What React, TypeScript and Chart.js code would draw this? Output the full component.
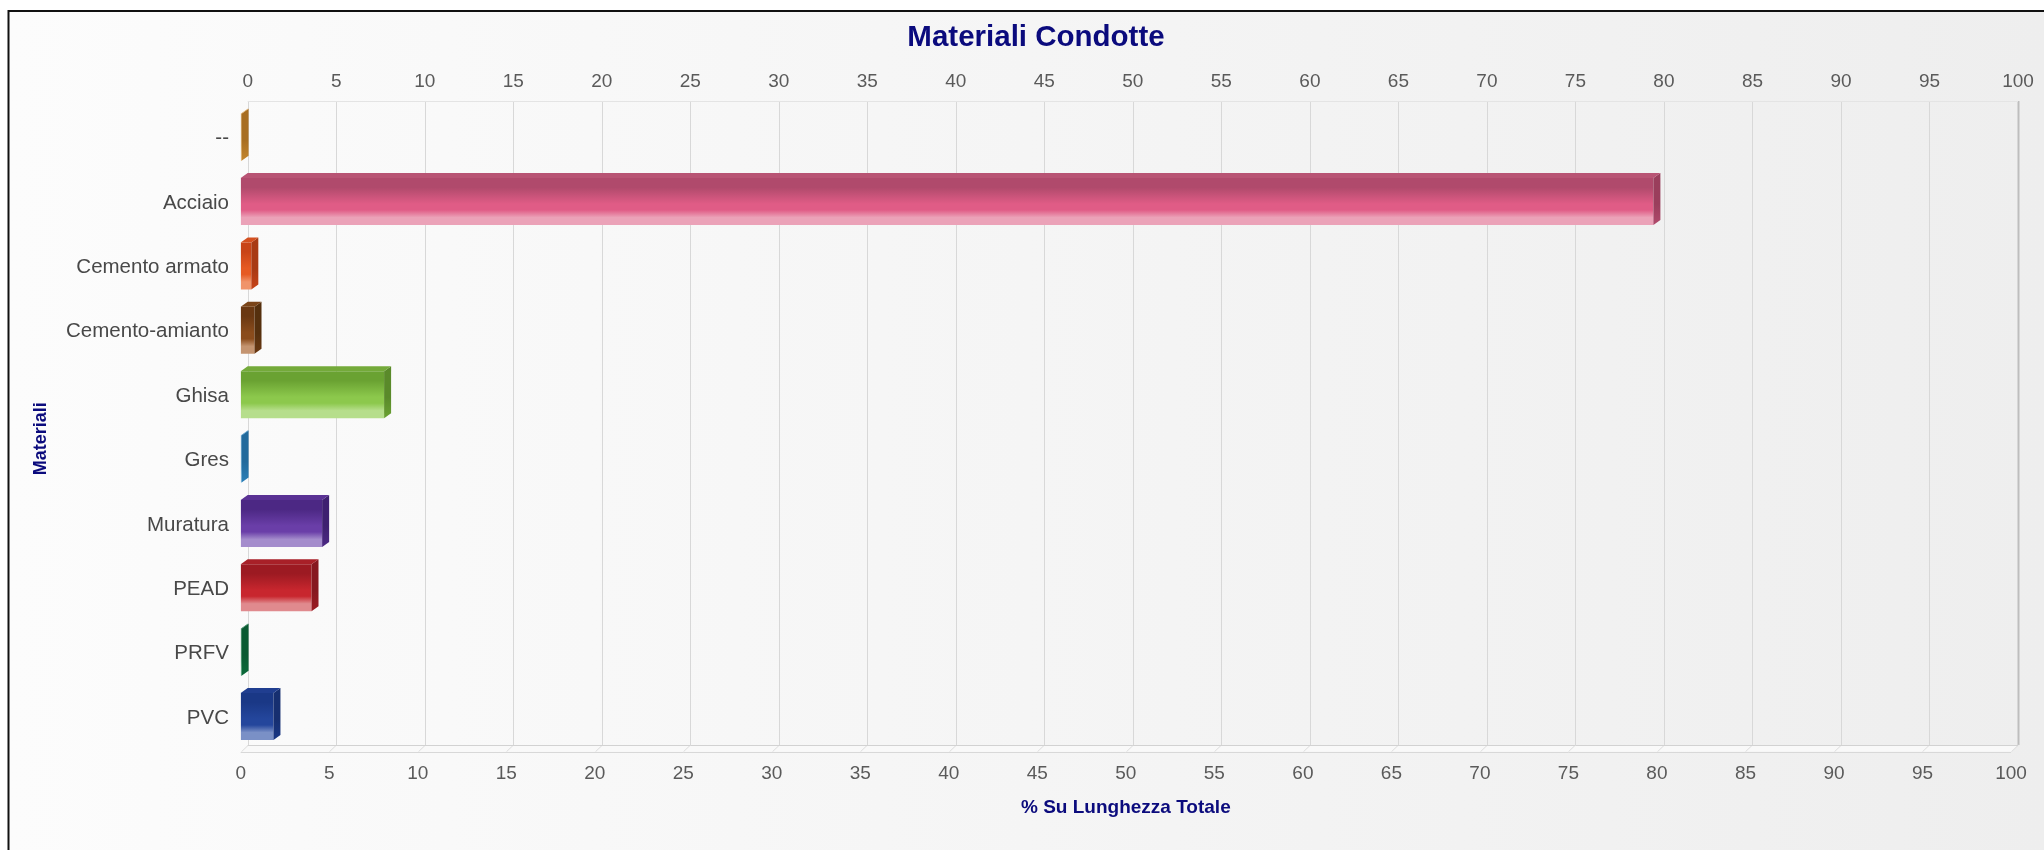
import React, { useEffect, useRef } from 'react';
import { Chart, registerables } from 'chart.js';

Chart.register(...registerables);

// ---- data ----
const categories = ['--', 'Acciaio', 'Cemento armato', 'Cemento-amianto', 'Ghisa', 'Gres', 'Muratura', 'PEAD', 'PRFV', 'PVC'];
const percentages = [0.05, 79.8, 0.6, 0.78, 8.1, 0.05, 4.6, 4.0, 0.05, 1.85];
const axisMin = 0;
const axisMax = 100;
const axisStep = 5;
const chartTitle = 'Materiali Condotte';
const xAxisTitle = '% Su Lunghezza Totale';
const yAxisTitle = 'Materiali';

// ---- style ----
const FONT = '"Liberation Sans", Arial, sans-serif';
const NAVY = '#0b0b7d';
// [top, mid, bottom, side, topFace]
const palette: string[][] = [
  ['#c4862e', '#d89a3e', '#e6b466', '#a86e22', '#d8a050'],
  ['#b04a6c', '#e05c86', '#eba2b8', '#9a3e5c', '#b85474'],
  ['#c84418', '#e65a22', '#f0946a', '#a83a14', '#d45020'],
  ['#6a3812', '#8a4c1c', '#c49470', '#55300e', '#7a4418'],
  ['#6aa232', '#8cc84c', '#b6de8c', '#5a8a2a', '#74aa3a'],
  ['#2a7fb8', '#3a94cc', '#78b8e0', '#226a9c', '#3288c0'],
  ['#4c2884', '#6a3ea8', '#a48ccc', '#3e2070', '#5a3294'],
  ['#9c1a22', '#c8262e', '#e08a8e', '#861820', '#a82028'],
  ['#0c6a3a', '#128048', '#4aa878', '#0a5a32', '#0e7040'],
  ['#1a3886', '#24469c', '#7a90c6', '#162f70', '#203e90'],
];
const BAR_FRACTION = 0.73;
const DEPTH_X = 7;
const DEPTH_Y = 5;
const WALL_DX = 7;

const threeDPlugin = {
  id: 'threeD',
  beforeDraw(chart: any) {
    const { ctx, width, height } = chart;
    ctx.save();
    ctx.fillStyle = '#ffffff';
    ctx.fillRect(0, 0, width, height);
    const g = ctx.createLinearGradient(9, 0, width, 0);
    g.addColorStop(0, '#fcfcfc');
    g.addColorStop(0.5, '#f5f5f5');
    g.addColorStop(1, '#eeeeee');
    ctx.fillStyle = g;
    ctx.fillRect(9, 12, width - 9, height - 12);
    ctx.strokeStyle = '#111111';
    ctx.lineWidth = 2;
    ctx.beginPath();
    ctx.moveTo(8.5, height);
    ctx.lineTo(8.5, 11);
    ctx.lineTo(width, 11);
    ctx.stroke();
    ctx.restore();
  },
  beforeDatasetsDraw(chart: any) {
    const { ctx, chartArea, scales } = chart;
    const xs = scales.x;
    const wallTop = chartArea.top - 4;
    const wallBottom = chartArea.bottom - 3.7;
    const frontBottom = chartArea.bottom + 3;
    const x0 = xs.getPixelForValue(axisMin);
    const x1 = xs.getPixelForValue(axisMax);
    ctx.save();
    // floor
    ctx.fillStyle = '#f9f9f9';
    ctx.beginPath();
    ctx.moveTo(x0 + WALL_DX, wallBottom);
    ctx.lineTo(x1 + WALL_DX, wallBottom);
    ctx.lineTo(x1, frontBottom);
    ctx.lineTo(x0, frontBottom);
    ctx.closePath();
    ctx.fill();
    ctx.lineWidth = 1;
    // grid lines on back wall
    for (let v = axisMin; v <= axisMax; v += axisStep) {
      const x = Math.round(xs.getPixelForValue(v) + WALL_DX) + 0.5;
      ctx.strokeStyle = v === axisMax ? '#bdbdbd' : '#d8d8d8';
      ctx.lineWidth = v === axisMax ? 2 : 1;
      ctx.beginPath();
      ctx.moveTo(x, wallTop);
      ctx.lineTo(x, wallBottom);
      ctx.stroke();
      ctx.strokeStyle = '#dddddd';
      ctx.lineWidth = 1;
      ctx.beginPath();
      ctx.moveTo(x, wallBottom);
      ctx.lineTo(x - WALL_DX, frontBottom);
      ctx.stroke();
    }
    ctx.strokeStyle = '#e4e4e4';
    ctx.beginPath();
    ctx.moveTo(x0 + WALL_DX, Math.round(wallTop) + 0.5);
    ctx.lineTo(x1 + WALL_DX, Math.round(wallTop) + 0.5);
    ctx.stroke();
    ctx.strokeStyle = '#d2d2d2';
    ctx.beginPath();
    ctx.moveTo(x0 + WALL_DX, Math.round(wallBottom) + 0.5);
    ctx.lineTo(x1 + WALL_DX, Math.round(wallBottom) + 0.5);
    ctx.stroke();
    ctx.strokeStyle = '#d8d8d8';
    ctx.beginPath();
    ctx.moveTo(x0, Math.round(frontBottom) + 0.5);
    ctx.lineTo(x1, Math.round(frontBottom) + 0.5);
    ctx.stroke();
    ctx.restore();
  },
  afterDatasetsDraw(chart: any) {
    const { ctx } = chart;
    const meta = chart.getDatasetMeta(0);
    ctx.save();
    meta.data.forEach((el: any, i: number) => {
      const { x, y, base, height } = el.getProps(['x', 'y', 'base', 'height'], true);
      const top = y - height / 2;
      const bottom = y + height / 2;
      const c = palette[i % palette.length];
      // side face
      const sg = ctx.createLinearGradient(0, top - DEPTH_Y, 0, bottom);
      sg.addColorStop(0, c[3]);
      sg.addColorStop(0.6, c[3]);
      sg.addColorStop(1, c[0]);
      ctx.fillStyle = sg;
      ctx.beginPath();
      ctx.moveTo(x, top);
      ctx.lineTo(x + DEPTH_X, top - DEPTH_Y);
      ctx.lineTo(x + DEPTH_X, bottom - DEPTH_Y);
      ctx.lineTo(x, bottom);
      ctx.closePath();
      ctx.fill();
      // top face
      ctx.fillStyle = c[4];
      ctx.beginPath();
      ctx.moveTo(base, top);
      ctx.lineTo(x, top);
      ctx.lineTo(x + DEPTH_X, top - DEPTH_Y);
      ctx.lineTo(base + DEPTH_X, top - DEPTH_Y);
      ctx.closePath();
      ctx.fill();
    });
    ctx.restore();
  },
  afterDraw(chart: any) {
    const { ctx, chartArea } = chart;
    ctx.save();
    ctx.font = `bold 18px ${FONT}`;
    ctx.fillStyle = NAVY;
    ctx.textAlign = 'center';
    ctx.textBaseline = 'middle';
    ctx.translate(chartArea.left - 199.5, (chartArea.top + chartArea.bottom) / 2 + 12);
    ctx.rotate(-Math.PI / 2);
    ctx.fillText(yAxisTitle, 0, 0);
    ctx.restore();
  },
};

function barFill(context: any) {
  const i = context.dataIndex;
  const c = palette[i % palette.length];
  const chart = context.chart;
  const area = chart.chartArea;
  const ys = chart.scales && chart.scales.y;
  if (!area || !ys) return c[1];
  const yc = ys.getPixelForValue(i);
  const half = (area.height / categories.length) * BAR_FRACTION / 2;
  const g = chart.ctx.createLinearGradient(0, yc - half, 0, yc + half);
  g.addColorStop(0, c[0]);
  g.addColorStop(0.2, c[0]);
  g.addColorStop(0.55, c[1]);
  g.addColorStop(0.68, c[1]);
  g.addColorStop(0.84, c[2]);
  g.addColorStop(1, c[2]);
  return g;
}

export default function App() {
  const canvasRef = useRef<HTMLCanvasElement | null>(null);

  useEffect(() => {
    if (!canvasRef.current) return;
    const tickFont = { family: FONT, size: 19 };
    const chart = new Chart(canvasRef.current, {
      type: 'bar',
      data: {
        labels: categories,
        datasets: [
          {
            label: xAxisTitle,
            data: percentages,
            backgroundColor: barFill,
            borderWidth: 0,
            barPercentage: BAR_FRACTION,
            categoryPercentage: 1,
            xAxisID: 'x',
            yAxisID: 'y',
          },
        ],
      },
      plugins: [threeDPlugin],
      options: {
        indexAxis: 'y',
        responsive: false,
        animation: false,
        devicePixelRatio: 1,
        layout: { padding: { left: 61, right: 33, top: 0, bottom: 0 } },
        plugins: {
          legend: { display: false },
          tooltip: { enabled: true },
          title: {
            display: true,
            text: chartTitle,
            color: NAVY,
            font: { family: FONT, size: 29.5, weight: 'bold' },
            padding: { top: 20.4, bottom: 0 },
          },
        },
        scales: {
          x: {
            type: 'linear',
            position: 'bottom',
            min: axisMin,
            max: axisMax,
            ticks: { stepSize: axisStep, color: '#5a5a5a', font: tickFont, padding: 13.2, autoSkip: false, maxRotation: 0 },
            grid: { display: false, drawTicks: false },
            border: { display: false },
            title: {
              display: true,
              text: xAxisTitle,
              color: NAVY,
              font: { family: FONT, size: 19, weight: 'bold' },
              padding: { top: 0, bottom: 31 },
            },
            afterFit: (s: any) => { s.height = 101.3; },
          },
          x2: {
            type: 'linear',
            position: 'top',
            min: axisMin,
            max: axisMax,
            ticks: { stepSize: axisStep, color: '#5a5a5a', font: tickFont, padding: 11.6, labelOffset: WALL_DX, autoSkip: false, maxRotation: 0 },
            grid: { display: false, drawTicks: false },
            border: { display: false },
            afterFit: (s: any) => { s.height = 49.2; },
          },
          y: {
            type: 'category',
            position: 'left',
            ticks: { color: '#484848', font: { family: FONT, size: 20.5 }, padding: 11.7, labelOffset: 1.5, autoSkip: false },
            grid: { display: false, drawTicks: false },
            border: { display: false },
            afterFit: (s: any) => { s.width = 179.7; },
          },
        },
      } as any,
    });
    return () => chart.destroy();
  }, []);

  return (
    <div style={{ position: 'absolute', left: 0, top: 0, width: 2044, height: 850 }}>
      <canvas ref={canvasRef} width={2044} height={850} style={{ display: 'block', width: 2044, height: 850 }} />
    </div>
  );
}
